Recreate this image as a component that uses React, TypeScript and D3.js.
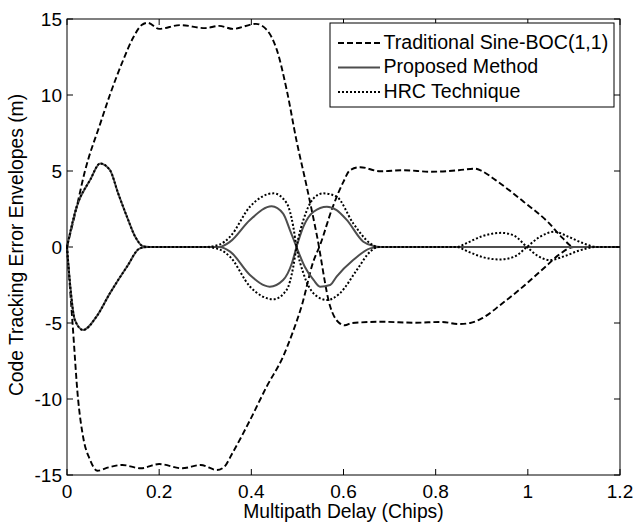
import * as d3 from 'd3';

// x = multipath delay (chips), y = code tracking error (m)
const tradUpperX = [0, 0.02, 0.039, 0.072, 0.093, 0.122, 0.144, 0.162, 0.175, 0.2, 0.245, 0.3, 0.33, 0.36, 0.41, 0.433, 0.455, 0.477, 0.498, 0.52, 0.542, 0.571, 0.589, 0.603, 0.618, 0.683, 0.755, 0.813, 0.849, 0.875, 0.9, 0.945, 0.99, 1.04, 1.07, 1.1, 1.2];
const tradUpperY = [0, 2.5, 5.0, 8.1, 10.0, 12.3, 13.8, 14.6, 14.75, 14.35, 14.6, 14.4, 14.55, 14.35, 14.68, 14.3, 13.0, 10.3, 7.0, 4.0, 0.8, -3.9, -4.95, -5.15, -5.0, -4.92, -4.98, -4.93, -5.07, -5.0, -4.7, -3.7, -2.6, -1.25, -0.45, 0, 0];

const tradLowerX = [0, 0.006, 0.012, 0.024, 0.035, 0.05, 0.066, 0.09, 0.12, 0.16, 0.2, 0.25, 0.29, 0.325, 0.34, 0.36, 0.397, 0.433, 0.469, 0.49, 0.51, 0.534, 0.55, 0.575, 0.6, 0.614, 0.636, 0.68, 0.73, 0.79, 0.85, 0.885, 0.9, 0.93, 0.99, 1.045, 1.075, 1.1, 1.2];
const tradLowerY = [0, -2.5, -5, -10, -12.5, -14.0, -14.72, -14.5, -14.34, -14.56, -14.28, -14.56, -14.34, -14.67, -14.5, -13.5, -11.4, -9.2, -7.2, -5.6, -3.8, -1.0, 0.2, 2.5, 4.3, 5.05, 5.25, 4.98, 5.05, 4.95, 5.05, 5.15, 5.0, 4.4, 3.0, 1.6, 0.6, 0, 0];

const propUpperX = [0, 0.021, 0.05, 0.072, 0.093, 0.111, 0.13, 0.148, 0.165, 0.18, 0.33, 0.354, 0.397, 0.444, 0.469, 0.484, 0.498, 0.516, 0.535, 0.549, 0.571, 0.585, 0.621, 0.658, 0.68, 1.2];
const propUpperY = [0, 2.65, 4.4, 5.5, 5.07, 3.53, 2.0, 0.68, 0.05, 0, 0, 0.35, 1.78, 2.68, 2.2, 1.1, 0, -1.3, -2.17, -2.61, -2.5, -1.95, -0.86, -0.09, 0, 0];

const propLowerX = [0, 0.0065, 0.017, 0.035, 0.064, 0.093, 0.13, 0.158, 0.175, 0.33, 0.354, 0.397, 0.44, 0.469, 0.488, 0.498, 0.513, 0.535, 0.564, 0.585, 0.607, 0.643, 0.665, 0.68, 1.2];
const propLowerY = [0, -2.39, -4.8, -5.46, -4.58, -3.05, -1.3, -0.09, 0, 0, -0.3, -1.84, -2.61, -2.17, -1.07, 0, 1.34, 2.32, 2.65, 2.43, 1.78, 0.35, 0.07, 0, 0];

const hrcUpperX = [0, 0.021, 0.05, 0.072, 0.093, 0.111, 0.13, 0.148, 0.165, 0.18, 0.3, 0.33, 0.354, 0.397, 0.448, 0.477, 0.491, 0.498, 0.513, 0.535, 0.564, 0.592, 0.629, 0.658, 0.675, 0.845, 0.87, 0.9, 0.943, 0.97, 0.998, 1.02, 1.048, 1.08, 1.11, 1.149, 1.2];
const hrcUpperY = [0, 2.65, 4.4, 5.5, 5.07, 3.53, 2.0, 0.68, 0.05, 0, 0, 0.15, 0.68, 2.65, 3.53, 2.87, 1.34, 0, -1.73, -3.05, -3.49, -3.05, -1.51, -0.3, 0, 0, 0.3, 0.7, 0.93, 0.75, 0, -0.55, -0.86, -0.6, -0.25, 0, 0];

const hrcLowerX = [0, 0.0065, 0.017, 0.035, 0.064, 0.093, 0.13, 0.158, 0.175, 0.3, 0.33, 0.354, 0.397, 0.448, 0.477, 0.491, 0.498, 0.513, 0.535, 0.556, 0.585, 0.621, 0.658, 0.675, 0.845, 0.87, 0.9, 0.94, 0.97, 0.998, 1.025, 1.057, 1.09, 1.12, 1.149, 1.2];
const hrcLowerY = [0, -2.39, -4.8, -5.46, -4.58, -3.05, -1.3, -0.09, 0, 0, -0.15, -0.65, -2.6, -3.44, -2.8, -1.3, 0, 1.78, 3.2, 3.53, 3.31, 1.56, 0.24, 0, 0, -0.3, -0.65, -0.82, -0.65, 0, 0.65, 1.0, 0.65, 0.25, 0, 0];

const xTicks = [0, 0.2, 0.4, 0.6, 0.8, 1, 1.2];
const yTicks = [-15, -10, -5, 0, 5, 10, 15];
const legendLabels = ['Traditional Sine-BOC(1,1)', 'Proposed Method', 'HRC Technique'];

const W = 635;
const H = 525;
const m = { left: 67, right: 15, top: 19, bottom: 50 };
const font = '"Liberation Sans", Arial, sans-serif';

const styles = [
  { stroke: '#000', dash: '6,3', width: 1.9 },
  { stroke: '#4d4d4d', dash: null, width: 2 },
  { stroke: '#000', dash: '2,2', width: 2 },
];

function zip(xs: number[], ys: number[]) {
  return xs.map((x, i) => [x, ys[i]] as [number, number]);
}

export default function App() {
  const x = d3.scaleLinear().domain([0, 1.2]).range([m.left, W - m.right]);
  const y = d3.scaleLinear().domain([-15, 15]).range([H - m.bottom, m.top]);
  const line = d3.line<[number, number]>()
    .x(d => x(d[0]))
    .y(d => y(d[1]))
    .curve(d3.curveMonotoneX);

  const series = [
    { s: 0, pts: zip(tradUpperX, tradUpperY) },
    { s: 0, pts: zip(tradLowerX, tradLowerY) },
    { s: 1, pts: zip(propUpperX, propUpperY) },
    { s: 1, pts: zip(propLowerX, propLowerY) },
    { s: 2, pts: zip(hrcUpperX, hrcUpperY) },
    { s: 2, pts: zip(hrcLowerX, hrcLowerY) },
  ];

  const x0 = m.left, x1 = W - m.right, y0 = m.top, y1 = H - m.bottom;
  const tl = 6;

  return (
    <svg width={W} height={H} style={{ position: 'absolute', left: 0, top: 0, background: '#fff' }}
      fontFamily={font}>
      <rect x={0} y={0} width={W} height={H} fill="#fff" />
      {series.map((d, i) => (
        <path key={i} d={line(d.pts) || ''} fill="none" stroke={styles[d.s].stroke}
          strokeWidth={styles[d.s].width} strokeDasharray={styles[d.s].dash || undefined} />
      ))}

      {/* frame and inward ticks on all sides */}
      <rect x={x0} y={y0} width={x1 - x0} height={y1 - y0} fill="none" stroke="#000" strokeWidth={1} />
      {xTicks.map(t => (
        <g key={'x' + t}>
          <line x1={x(t)} x2={x(t)} y1={y1} y2={y1 - tl} stroke="#000" />
          <line x1={x(t)} x2={x(t)} y1={y0} y2={y0 + tl} stroke="#000" />
          <text x={x(t)} y={498} textAnchor="middle" fontSize={19}>{t}</text>
        </g>
      ))}
      {yTicks.map(t => (
        <g key={'y' + t}>
          <line x1={x0} x2={x0 + tl} y1={y(t)} y2={y(t)} stroke="#000" />
          <line x1={x1} x2={x1 - tl} y1={y(t)} y2={y(t)} stroke="#000" />
          <text x={62} y={y(t)} dy="0.36em" textAnchor="end" fontSize={19}>{t}</text>
        </g>
      ))}

      <text x={(x0 + x1) / 2} y={518} textAnchor="middle" fontSize={19.3}>Multipath Delay (Chips)</text>
      <text transform={`translate(22.5,${(y0 + y1) / 2 - 2}) rotate(-90)`} textAnchor="middle" fontSize={19.3}>
        Code Tracking Error Envelopes (m)
      </text>

      {/* legend */}
      <rect x={330} y={23} width={284} height={84} fill="#fff" stroke="#000" strokeWidth={1} />
      {legendLabels.map((lab, i) => (
        <g key={lab}>
          <line x1={338} x2={380} y1={43 + i * 24.5} y2={43 + i * 24.5} stroke={styles[i].stroke}
            strokeWidth={styles[i].width} strokeDasharray={styles[i].dash || undefined} />
          <text x={383.5} y={48.5 + i * 24.5} fontSize={19.6}>{lab}</text>
        </g>
      ))}
    </svg>
  );
}
